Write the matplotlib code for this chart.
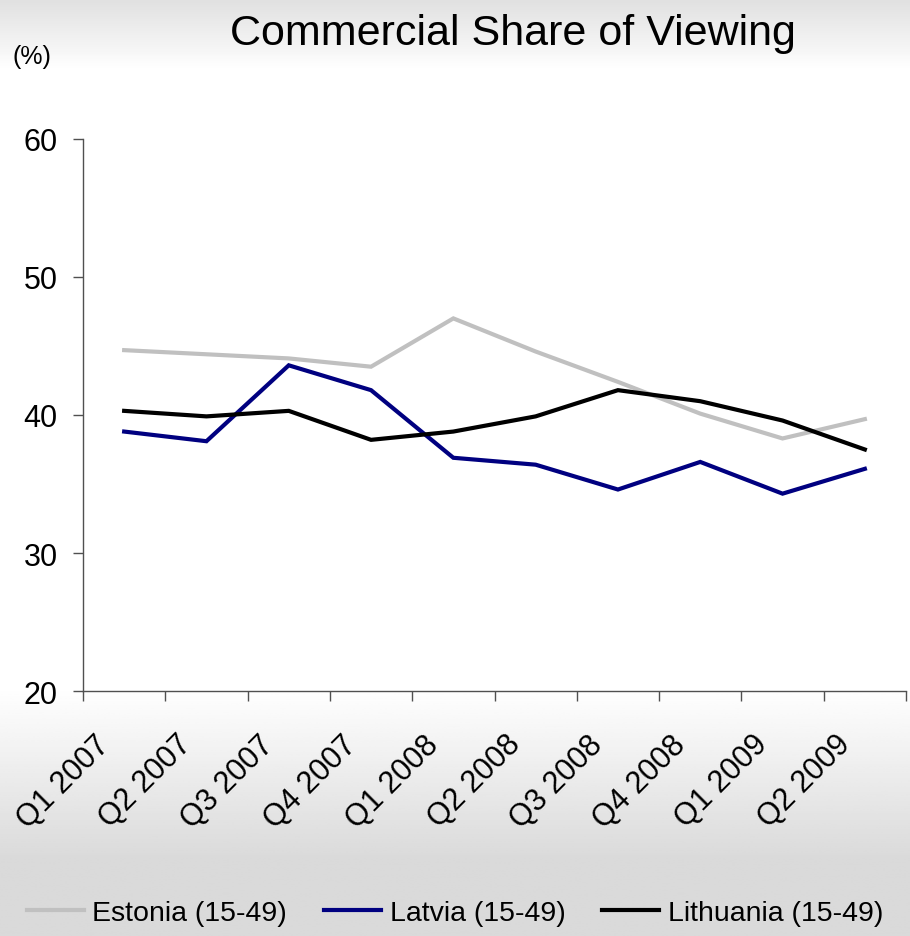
import numpy as np
import matplotlib
matplotlib.use("Agg")
import matplotlib.pyplot as plt
from matplotlib.transforms import ScaledTranslation

plt.rcParams['font.family'] = ['Liberation Sans', 'DejaVu Sans']

quarters = ["Q1 2007", "Q2 2007", "Q3 2007", "Q4 2007", "Q1 2008",
            "Q2 2008", "Q3 2008", "Q4 2008", "Q1 2009", "Q2 2009"]
estonia = [44.7, 44.4, 44.1, 43.5, 47.0, 44.6, 42.4, 40.1, 38.3, 39.7]
latvia = [38.8, 38.1, 43.6, 41.8, 36.9, 36.4, 34.6, 36.6, 34.3, 36.1]
lithuania = [40.3, 39.9, 40.3, 38.2, 38.8, 39.9, 41.8, 41.0, 39.6, 37.5]
series_names = ["Estonia (15-49)", "Latvia (15-49)", "Lithuania (15-49)"]
series_colors = ["#C0C0C0", "#000080", "#000000"]
yticks = [20, 30, 40, 50, 60]

W, H = 910, 937
fig = plt.figure(figsize=(W / 100, H / 100), dpi=100)

# background gradient
bg = fig.add_axes([0, 0, 1, 1], zorder=-10)
rows = np.linspace(0, 1, 400)
top_c, white, bot_c = 0.88, 1.0, 0.855
vals = np.ones_like(rows)
for i, r in enumerate(rows):
    ypix = r * H
    if ypix < 70:
        vals[i] = top_c + (white - top_c) * (ypix / 70)
    elif ypix < 690:
        vals[i] = white
    elif ypix < 860:
        vals[i] = white + (bot_c - white) * ((ypix - 690) / 170)
    else:
        vals[i] = bot_c
img = np.repeat(vals[:, None], 2, axis=1)
bg.imshow(img, cmap='gray', vmin=0, vmax=1, aspect='auto', extent=[0, 1, 1, 0])
bg.set_axis_off()

ax = fig.add_axes([83 / W, 1 - 692 / H, (906 - 83) / W, (692 - 140) / H])
ax.patch.set_alpha(0)
x = np.arange(len(quarters))
for vals_, name, c in zip([estonia, latvia, lithuania], series_names, series_colors):
    ax.plot(x, vals_, color=c, lw=3.0, label=name, solid_joinstyle='miter')

ax.set_xlim(-0.5, len(quarters) - 0.5)
ax.set_ylim(20, 60)
ax.set_yticks(yticks)
ax.set_yticklabels([str(v) for v in yticks], fontsize=22)
ax.set_xticks(np.arange(-0.5, len(quarters) + 0.5, 1))
ax.set_xticklabels([])
ax.set_xticks(x, minor=True)
ax.set_xticklabels(quarters, minor=True, rotation=45, ha='right', va='top',
                   rotation_mode='anchor', fontsize=22)
ax.tick_params(axis='x', which='minor', length=0, pad=18)
ax.tick_params(axis='x', which='major', length=7.2, color='#505050', width=1)
ax.tick_params(axis='y', length=7.2, color='#505050', width=1, pad=11)
for lab in ax.get_xticklabels(minor=True):
    lab.set_transform(lab.get_transform() +
                      ScaledTranslation(-0.30, -0.13, fig.dpi_scale_trans))
for s in ['top', 'right']:
    ax.spines[s].set_visible(False)
for s in ['left', 'bottom']:
    ax.spines[s].set_color('#505050')
    ax.spines[s].set_linewidth(1)

fig.text(513 / W, 1 - 34 / H, "Commercial Share of Viewing", fontsize=31,
         ha='center', va='center')
fig.text(12 / W, 1 - 57 / H, "(%)", fontsize=18, ha='left', va='center')

fig.legend(loc='center', bbox_to_anchor=(0.5, 1 - 914 / H), ncol=3,
           frameon=False, fontsize=20.5, handlelength=2.0, handletextpad=0.3,
           columnspacing=1.3)

fig.savefig("out.png", dpi=100)
